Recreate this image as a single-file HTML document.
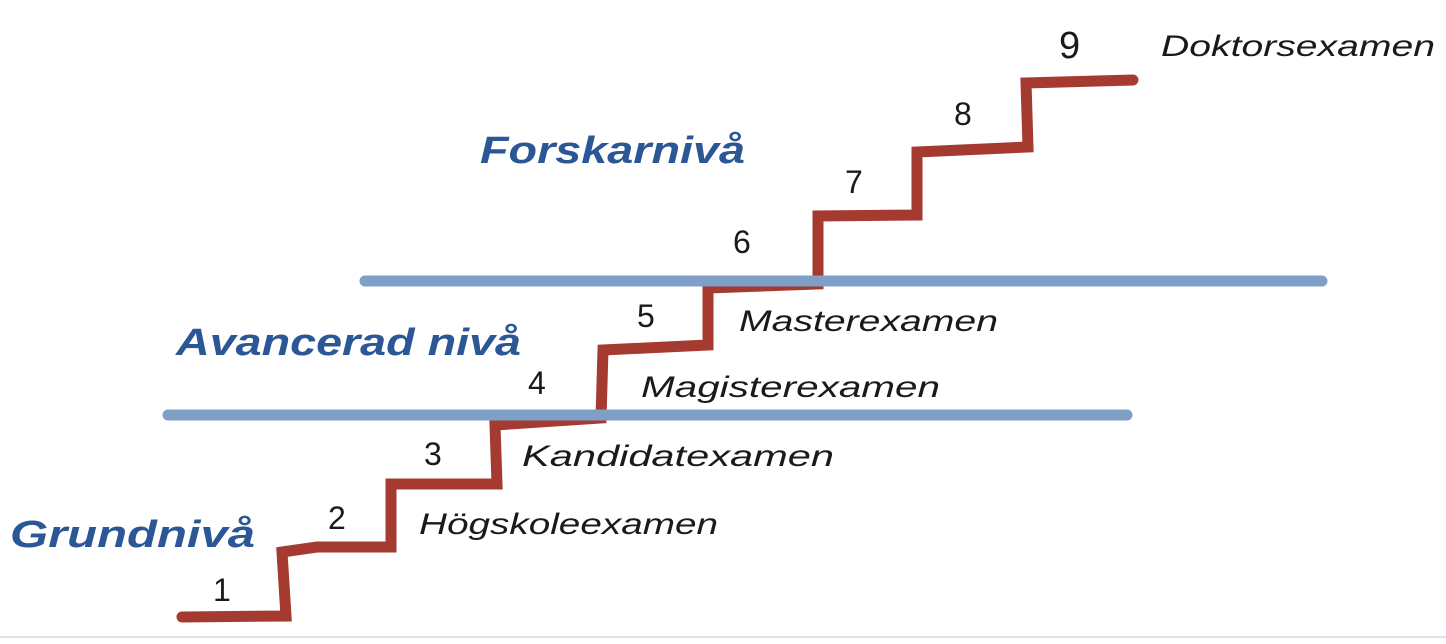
<!DOCTYPE html>
<html><head><meta charset="utf-8"><style>
html,body{margin:0;padding:0;background:#fff;width:1446px;height:644px;overflow:hidden}
</style></head><body>
<svg width="1446" height="644" viewBox="0 0 1446 644" xmlns="http://www.w3.org/2000/svg">
<line x1="0" y1="637" x2="1446" y2="637" stroke="#dde3ee" stroke-width="2"/>
<polyline fill="none" stroke="#a53b30" stroke-width="11" stroke-linejoin="miter" stroke-linecap="round"
 points="182,617 286,616 282,552 317,547 391,547 391,484 497,484 495,425 601,418 603,350 708,345 708,288 818,284 818,216 917,215 917,152 1028,147 1026,83 1133,80"/>
<line x1="365" y1="281" x2="1322" y2="281" stroke="#7f9fc6" stroke-width="11" stroke-linecap="round"/>
<line x1="168" y1="415" x2="1127" y2="415" stroke="#7f9fc6" stroke-width="11" stroke-linecap="round"/>
<g font-family="Liberation Sans, sans-serif" fill="#1a1a1a" font-size="32">
<text x="213" y="601">1</text>
<text x="328" y="529">2</text>
<text x="424" y="465">3</text>
<text x="528" y="394">4</text>
<text x="637" y="327">5</text>
<text x="733" y="253">6</text>
<text x="845" y="193">7</text>
<text x="954" y="125">8</text>
<text x="1059" y="58" font-size="38">9</text>
</g>
<g font-family="Liberation Sans, sans-serif" font-style="italic" fill="#1a1a1a" font-size="30" lengthAdjust="spacingAndGlyphs">
<text x="419" y="534" textLength="299" lengthAdjust="spacingAndGlyphs">Högskoleexamen</text>
<text x="522" y="466" textLength="312" lengthAdjust="spacingAndGlyphs">Kandidatexamen</text>
<text x="641" y="397" textLength="299" lengthAdjust="spacingAndGlyphs">Magisterexamen</text>
<text x="739" y="331" textLength="259" lengthAdjust="spacingAndGlyphs">Masterexamen</text>
<text x="1161" y="56" textLength="274" lengthAdjust="spacingAndGlyphs">Doktorsexamen</text>
</g>
<g font-family="Liberation Sans, sans-serif" font-style="italic" font-weight="bold" fill="#2b5796" font-size="38">
<text x="10" y="547" textLength="245" lengthAdjust="spacingAndGlyphs">Grundnivå</text>
<text x="176" y="355" textLength="345" lengthAdjust="spacingAndGlyphs">Avancerad nivå</text>
<text x="480" y="163" textLength="265" lengthAdjust="spacingAndGlyphs">Forskarnivå</text>
</g>
</svg>
</body></html>
